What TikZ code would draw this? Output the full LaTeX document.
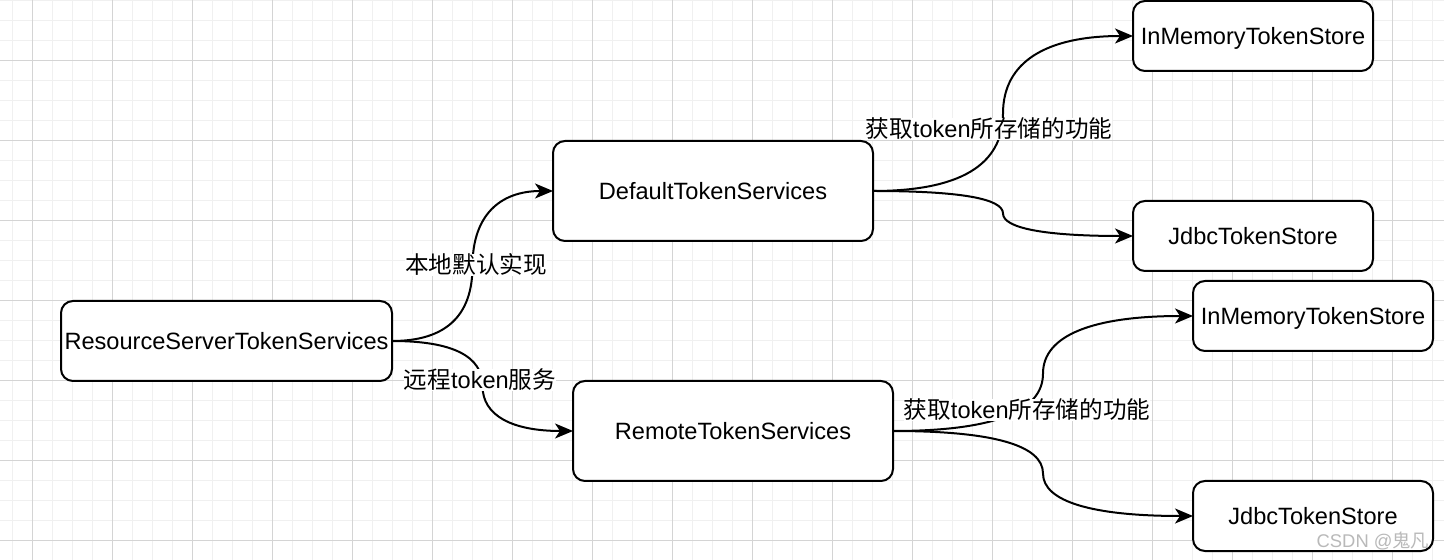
\documentclass[tikz,border=0pt]{standalone}
\usepackage{fontspec}
\setmainfont{Liberation Sans}
\newfontfamily\cjk{Noto Sans CJK SC}
\usepackage{tikz}
\usetikzlibrary{arrows.meta, calc}
\definecolor{gridminor}{RGB}{240,240,240}
\definecolor{gridmajor}{RGB}{212,212,212}
\definecolor{mark}{RGB}{185,185,185}

\tikzset{
  box/.style={draw, line width=1pt, fill=white, rounded corners=6pt,
              inner sep=0pt, outer sep=0pt, text height=8.45pt, text depth=0pt,
              font=\fontsize{11.8}{14}\selectfont},
  link/.style={line width=1pt, -{Stealth[length=9pt, width=7.5pt, inset=2.5pt]}},
  lbl/.style={fill=white, inner sep=0pt, text height=10pt, text depth=1pt,
              font=\fontsize{11.8}{14}\selectfont}
}

\begin{document}
\begin{tikzpicture}[x=0.5pt, y=-0.5pt]

  \useasboundingbox (0,0) rectangle (1444,560);
  \fill[white] (0,0) rectangle (1444,560);

  %% Grid
  \foreach \k in {0,...,71}{
    \draw[gridminor, line width=0.5pt] ({12.3+20*\k},0) -- ({12.3+20*\k},560);
  }
  \foreach \k in {0,...,28}{
    \draw[gridminor, line width=0.5pt] (0,{0.3+20*\k}) -- (1444,{0.3+20*\k});
  }
  \foreach \k in {0,...,17}{
    \draw[gridmajor, line width=0.5pt] ({32.3+80*\k},0) -- ({32.3+80*\k},560);
  }
  \foreach \k in {0,...,6}{
    \draw[gridmajor, line width=0.5pt] (0,{60.3+80*\k}) -- (1444,{60.3+80*\k});
  }

  %% Services
  \node[box, minimum width=165.5pt, minimum height=40pt] (rs) at (226.5,341) {ResourceServerTokenServices};
  \node[box, minimum width=160pt, minimum height=50pt] (dflt) at (713,191) {DefaultTokenServices};
  \node[box, minimum width=160pt, minimum height=50pt] (rmt) at (733,431) {RemoteTokenServices};

  %% Stores
  \node[box, minimum width=120pt, minimum height=35pt] (mem1) at (1253,36) {InMemoryTokenStore};
  \node[box, minimum width=120pt, minimum height=35pt] (jdbc1) at (1253,236) {JdbcTokenStore};
  \node[box, minimum width=120pt, minimum height=35pt] (mem2) at (1313,316) {InMemoryTokenStore};
  \node[box, minimum width=120pt, minimum height=35pt] (jdbc2) at (1313,516) {JdbcTokenStore};

  %% Links
  \foreach \a/\b/\dx/\dy in {rs/dflt/53.7/50,
                             rs/rmt/60.3/-30,
                             dflt/mem1/86.7/51.7,
                             dflt/jdbc1/86.7/-15,
                             rmt/mem2/100/38.3,
                             rmt/jdbc2/100/-28.3
                             }{
    \draw[link] (\a.east) .. controls +(\dx,0) and +(0,\dy) .. ($(\a.east)!.5!(\b.west)$)
                .. controls +(0,-\dy) and +(-\dx,0) .. (\b.west);
  }

  %% Labels
  \node[lbl] (lblLocal) at (476,265) {\cjk 本地默认实现};
  \node[lbl] (lblRemote) at (480,380) {{\cjk 远程}token{\cjk 服务}};
  \node[lbl] (lblStoreA) at (989,129) {{\cjk 获取}token{\cjk 所存储的功能}};
  \node[lbl] (lblStoreB) at (1027,410) {{\cjk 获取}token{\cjk 所存储的功能}};

  \node[text=mark, font=\fontsize{9.2}{11}\selectfont] (wm) at (1373,541) {CSDN @{\cjk 鬼凡}};

\end{tikzpicture}
\end{document}
